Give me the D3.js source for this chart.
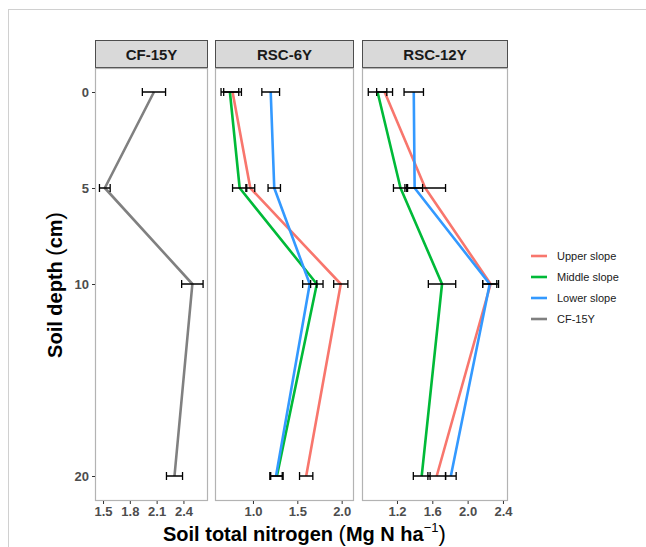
<!DOCTYPE html>
<html><head><meta charset="utf-8">
<script src="https://cdn.jsdelivr.net/npm/d3@7"></script>
<style>body{margin:0;background:#fff}svg{display:block;font-family:"Liberation Sans",Arial,sans-serif}</style>
</head><body>
<svg id="c" width="646" height="547"></svg>
<script>
const depths = [0, 5, 10, 20];
const depthTicks = [0, 5, 10, 20];
const panelNames = ["CF-15Y", "RSC-6Y", "RSC-12Y"];
const seriesNames = ["Upper slope", "Middle slope", "Lower slope", "CF-15Y"];
const seriesColors = ["#F8766D", "#00BA38", "#3399FF", "#808080"];

const cf15 = [2.07, 1.52, 2.50, 2.30];
const cf15Err = [0.13, 0.06, 0.12, 0.09];

const rsc6Upper = [0.77, 0.97, 1.99, 1.60];
const rsc6UpperErr = [0.10, 0.05, 0.08, 0.075];
const rsc6Middle = [0.74, 0.85, 1.72, 1.27];
const rsc6MiddleErr = [0.10, 0.08, 0.07, 0.07];
const rsc6Lower = [1.20, 1.24, 1.64, 1.26];
const rsc6LowerErr = [0.10, 0.07, 0.08, 0.07];

const rsc12Upper = [1.06, 1.52, 2.26, 1.65];
const rsc12UpperErr = [0.09, 0.23, 0.09, 0.10];
const rsc12Middle = [0.98, 1.24, 1.71, 1.48];
const rsc12MiddleErr = [0.105, 0.08, 0.155, 0.095];
const rsc12Lower = [1.39, 1.40, 2.25, 1.81];
const rsc12LowerErr = [0.11, 0.09, 0.08, 0.06];

const xTicks1 = [1.5, 1.8, 2.1, 2.4];
const xTicks2 = [1.0, 1.5, 2.0];
const xTicks3 = [1.2, 1.6, 2.0, 2.4];

// panel layout (pixel geometry + axis domains)
const panels = [
  {name: panelNames[0], x0: 95, x1: 208, dom: [1.41, 2.675], ticks: xTicks1, fmt: d3.format(".1f"),
   series: [{name: seriesNames[3], vals: cf15, err: cf15Err}]},
  {name: panelNames[1], x0: 215, x1: 354, dom: [0.572, 2.139], ticks: xTicks2, fmt: d3.format(".1f"),
   series: [{name: seriesNames[0], vals: rsc6Upper, err: rsc6UpperErr},
            {name: seriesNames[1], vals: rsc6Middle, err: rsc6MiddleErr},
            {name: seriesNames[2], vals: rsc6Lower, err: rsc6LowerErr}]},
  {name: panelNames[2], x0: 362, x1: 508, dom: [0.804, 2.457], ticks: xTicks3, fmt: d3.format(".1f"),
   series: [{name: seriesNames[0], vals: rsc12Upper, err: rsc12UpperErr},
            {name: seriesNames[1], vals: rsc12Middle, err: rsc12MiddleErr},
            {name: seriesNames[2], vals: rsc12Lower, err: rsc12LowerErr}]}
];

const color = d3.scaleOrdinal().domain(seriesNames).range(seriesColors);
const plotTop = 68, plotBottom = 501, stripTop = 40;
const y = d3.scaleLinear().domain([0, 20]).range([92, 476]);

const svg = d3.select("#c");
// outer frame
svg.append("rect").attr("x", 8.5).attr("y", 9.5).attr("width", 700).attr("height", 600)
  .attr("fill", "none").attr("stroke", "#d0d0d0").attr("stroke-width", 1);

panels.forEach((p, i) => {
  const x = d3.scaleLinear().domain(p.dom).range([p.x0, p.x1]);
  const g = svg.append("g");
  // strip
  g.append("rect").attr("x", p.x0 + 0.5).attr("y", stripTop + 0.5)
    .attr("width", p.x1 - p.x0 - 1).attr("height", plotTop - stripTop - 1)
    .attr("fill", "#D9D9D9").attr("stroke", "#4d4d4d").attr("stroke-width", 1);
  g.append("text").attr("x", (p.x0 + p.x1) / 2).attr("y", (stripTop + plotTop) / 2 + 5.5)
    .attr("text-anchor", "middle").attr("font-size", 15).attr("font-weight", "bold")
    .attr("fill", "#1a1a1a").text(p.name);
  // panel border
  g.append("rect").attr("x", p.x0 + 0.5).attr("y", plotTop + 0.5)
    .attr("width", p.x1 - p.x0 - 1).attr("height", plotBottom - plotTop - 1)
    .attr("fill", "#fff").attr("stroke", "#b3b3b3").attr("stroke-width", 1.2);
  // x axis
  const xa = g.append("g").attr("transform", `translate(0,${plotBottom})`)
    .call(d3.axisBottom(x).tickValues(p.ticks).tickFormat(p.fmt).tickSize(3).tickPadding(3));
  xa.select(".domain").remove();
  xa.selectAll("line").attr("stroke", "#333").attr("stroke-width", 1);
  xa.selectAll("text").attr("font-size", 13).attr("font-weight", "bold").attr("fill", "#4d4d4d")
    .attr("font-family", "Liberation Sans, Arial, sans-serif");
  if (i === 0) {
    const ya = g.append("g").attr("transform", `translate(${p.x0},0)`)
      .call(d3.axisLeft(y).tickValues(depthTicks).tickSize(3).tickPadding(3));
    ya.select(".domain").remove();
    ya.selectAll("line").attr("stroke", "#333");
    ya.selectAll("text").attr("font-size", 13).attr("font-weight", "bold").attr("fill", "#4d4d4d")
      .attr("font-family", "Liberation Sans, Arial, sans-serif");
  }
  const line = d3.line().x(d => x(d.v)).y(d => y(d.d));
  p.series.forEach(s => {
    const pts = depths.map((d, k) => ({d: d, v: s.vals[k], e: s.err[k]}));
    g.append("path").datum(pts).attr("d", line).attr("fill", "none")
      .attr("stroke", color(s.name)).attr("stroke-width", 2.6).attr("stroke-linejoin", "round");
  });
  p.series.forEach(s => {
    const pts = depths.map((d, k) => ({d: d, v: s.vals[k], e: s.err[k]}));
    const eb = g.append("g").attr("stroke", "#000").attr("stroke-width", 1.3).attr("fill", "none");
    pts.forEach(q => {
      const xl = x(q.v - q.e), xr = x(q.v + q.e), yy = y(q.d);
      eb.append("path").attr("d", `M${xl},${yy}H${xr}M${xl},${yy - 4}V${yy + 4}M${xr},${yy - 4}V${yy + 4}`);
    });
  });
});

// axis titles
const xt = svg.append("text").attr("x", 163).attr("y", 541).attr("font-size", 20)
  .attr("font-weight", "bold").attr("fill", "#000");
xt.append("tspan").text("Soil total nitrogen ");
xt.append("tspan").attr("font-weight", "normal").attr("font-size", 22).text("(");
xt.append("tspan").text("Mg N ha");
xt.append("tspan").attr("font-weight", "normal").attr("font-size", 13).attr("dy", -9).text("−1");
xt.append("tspan").attr("font-weight", "normal").attr("font-size", 22).attr("dy", 9).text(")");

const yt = svg.append("text").attr("transform", "translate(62,285) rotate(-90)")
  .attr("text-anchor", "middle").attr("font-size", 20).attr("font-weight", "bold").attr("fill", "#000");
yt.append("tspan").text("Soil depth ");
yt.append("tspan").attr("font-weight", "normal").attr("font-size", 22).text("(");
yt.append("tspan").text("cm");
yt.append("tspan").attr("font-weight", "normal").attr("font-size", 22).text(")");

// legend
const legY = [256, 277, 298, 319];
seriesNames.forEach((n, k) => {
  svg.append("line").attr("x1", 531).attr("x2", 547).attr("y1", legY[k]).attr("y2", legY[k])
    .attr("stroke", color(n)).attr("stroke-width", 2.6);
  svg.append("text").attr("x", 557).attr("y", legY[k] + 4).attr("font-size", 11)
    .attr("fill", "#1a1a1a").text(n);
});
</script>
</body></html>
